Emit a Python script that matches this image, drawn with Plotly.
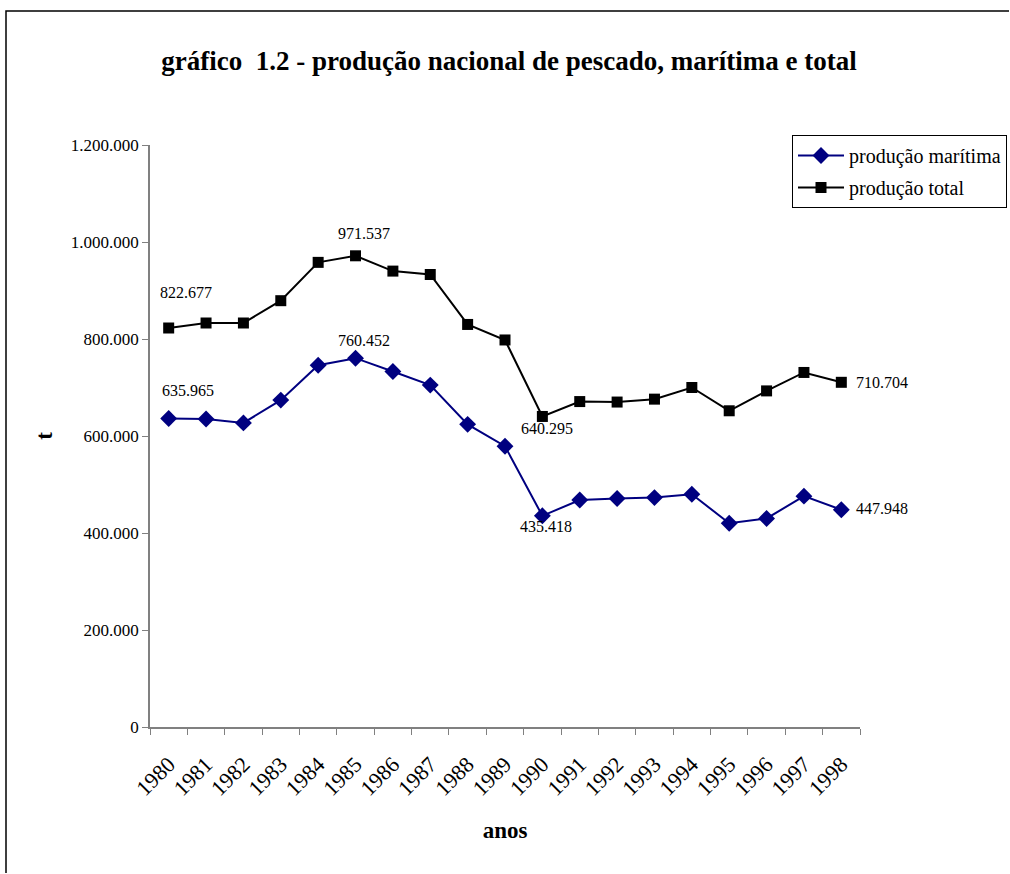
import plotly.graph_objects as go

# Annual national fish landings (tonnes)
anos = ["1980", "1981", "1982", "1983", "1984", "1985", "1986", "1987", "1988", "1989",
        "1990", "1991", "1992", "1993", "1994", "1995", "1996", "1997", "1998"]
producao_maritima = [635965, 635000, 627000, 674000, 746000, 760452, 733000, 705000, 624000, 579000,
                     435418, 468000, 471000, 473000, 480000, 420000, 430000, 476000, 447948]
producao_total = [822677, 833000, 833000, 879000, 958000, 971537, 940000, 933000, 830000, 798000,
                  640295, 671000, 670000, 676000, 700000, 652000, 693000, 731000, 710704]

# Years whose values are written next to the markers: (year, series, xshift, yshift, anchor)
rotulos = [
    ("1980", "total", 17, 36, "center"),
    ("1985", "total", 8, 22, "center"),
    ("1990", "total", 5, -12, "center"),
    ("1998", "total", 13, 0, "left"),
    ("1980", "maritima", 19, 28, "center"),
    ("1985", "maritima", 8, 18, "center"),
    ("1990", "maritima", 4, -11, "center"),
    ("1998", "maritima", 13, 1, "left"),
]

FONT = "Liberation Serif, Times New Roman, serif"
W, H = 1010, 874
L, R, T, B = 150, 150, 145, 147  # plot area: x 150..860, y 145..727


def px_x(px):
    return (px - L) / (W - L - R)


def px_y(py):
    return (H - B - py) / (H - T - B)


def fmt(v):
    return f"{v:,}".replace(",", ".")


fig = go.Figure()
fig.add_trace(go.Scatter(
    x=anos, y=producao_maritima, name="produção marítima", mode="lines+markers",
    line=dict(color="#000080", width=2),
    marker=dict(symbol="diamond", size=13, color="#000080"),
    legendgroup="m",
))
fig.add_trace(go.Scatter(
    x=anos, y=producao_total, name="produção total", mode="lines+markers",
    line=dict(color="black", width=2),
    marker=dict(symbol="square", size=11, color="black"),
    legendgroup="t",
))

series = {"total": producao_total, "maritima": producao_maritima}
for ano, serie, dx, dy, anchor in rotulos:
    i = anos.index(ano)
    v = series[serie][i]
    fig.add_annotation(x=i, y=v, text=fmt(v), showarrow=False, xanchor=anchor,
                       xshift=dx, yshift=dy, font=dict(family=FONT, size=16, color="black"))

# Outer chart frame: only its top and left edges fall inside the page
fig.add_shape(type="path", xref="paper", yref="paper",
              path=(f"M {px_x(6)},{px_y(H - 1)} L {px_x(6)},{px_y(11)} "
                    f"L {px_x(W - 1)},{px_y(11)}"),
              line=dict(color="black", width=1.5), layer="below")

fig.update_layout(
    width=W, height=H,
    margin=dict(l=L, r=R, t=T, b=B, autoexpand=False),
    paper_bgcolor="white", plot_bgcolor="white",
    separators=",.",
    font=dict(family=FONT, color="black", size=17),
    title=dict(text="<b>gráfico  1.2 - produção nacional de pescado, marítima e total</b>",
               x=509 / W, xanchor="center", y=1 - 61 / H, yanchor="middle",
               font=dict(family=FONT, size=27, color="black")),
    showlegend=True,
    legend=dict(x=px_x(792), y=px_y(135), xanchor="left", yanchor="top",
                bordercolor="black", borderwidth=1, bgcolor="white",
                font=dict(family=FONT, size=20, color="black"),
                itemwidth=46, traceorder="grouped", tracegroupgap=3),
    xaxis=dict(type="category", range=[-0.5, len(anos) - 0.5], tickson="boundaries",
               ticks="outside", ticklen=6, ticklabelstandoff=14,
               tickcolor="#808080", showline=True, linecolor="#808080", linewidth=1.5,
               tickangle=-45, showgrid=False, zeroline=False,
               tickfont=dict(family=FONT, size=22, color="black"),
               title=dict(text="<b>anos</b>", font=dict(family=FONT, size=23, color="black"),
                          standoff=22)),
    yaxis=dict(range=[0, 1200000], dtick=200000, tickformat=",d", ticks="outside", ticklen=6,
               tickcolor="#808080", showline=True, linecolor="#808080", linewidth=1.5,
               showgrid=False, zeroline=False,
               tickfont=dict(family=FONT, size=17, color="black"),
               title=dict(text="<b>t</b>", font=dict(family=FONT, size=23, color="black"),
                          standoff=12)),
)

fig.write_html("out.html", config={"displayModeBar": False})
